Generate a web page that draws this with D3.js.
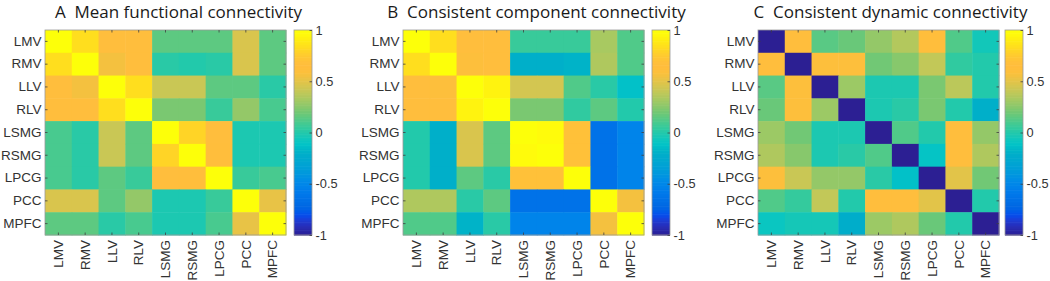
<!DOCTYPE html>
<html><head><meta charset="utf-8">
<script src="https://cdn.jsdelivr.net/npm/d3@7"></script>
<style>body{margin:0;background:#fff;} svg{display:block;}</style>
</head><body>
<svg id="chart" width="1050" height="281"></svg>
<script>
const regions = ["LMV","RMV","LLV","RLV","LSMG","RSMG","LPCG","PCC","MPFC"];
const colorTicks = [1, 0.5, 0, -0.5, -1];
const colorTickLabels = ["1", "0.5", "0", "-0.5", "-1"];
const titles = ["A  Mean functional connectivity", "B  Consistent component connectivity", "C  Consistent dynamic connectivity"];

const meanFC = [
 [1.00,0.84,0.66,0.66,0.15,0.15,0.15,0.47,0.15],
 [0.84,1.00,0.56,0.66,0.02,0.00,0.02,0.47,0.15],
 [0.66,0.56,1.00,0.84,0.42,0.42,0.15,0.15,0.02],
 [0.66,0.66,0.84,1.00,0.22,0.22,0.06,0.28,0.10],
 [0.10,0.02,0.42,0.15,1.00,0.80,0.66,-0.02,-0.02],
 [0.10,0.02,0.42,0.15,0.80,1.00,0.62,-0.02,-0.02],
 [0.10,0.02,0.15,0.06,0.66,0.62,1.00,0.06,0.10],
 [0.47,0.47,0.15,0.28,-0.02,-0.02,0.06,1.00,0.52],
 [0.15,0.15,0.02,0.10,-0.02,-0.02,0.10,0.52,1.00]
];
const componentFC = [
 [1.00,0.84,0.66,0.66,0.06,0.06,0.06,0.33,0.12],
 [0.84,1.00,0.60,0.66,-0.20,-0.20,-0.18,0.35,0.12],
 [0.66,0.60,1.00,0.93,0.45,0.45,0.12,0.02,-0.12],
 [0.66,0.66,0.93,1.00,0.22,0.22,0.04,0.15,0.00],
 [0.00,-0.20,0.47,0.15,1.00,0.97,0.70,-0.64,-0.52],
 [0.00,-0.20,0.47,0.15,0.97,1.00,0.70,-0.64,-0.52],
 [0.00,-0.20,0.15,0.02,0.70,0.70,1.00,-0.64,-0.52],
 [0.35,0.35,0.02,0.15,-0.64,-0.64,-0.64,1.00,0.56],
 [0.12,0.12,-0.18,0.02,-0.52,-0.52,-0.52,0.56,1.00]
];
const dynamicFC = [
 [-1.00,0.66,0.14,0.18,0.28,0.36,0.62,0.12,-0.05],
 [0.66,-1.00,0.60,0.60,0.20,0.25,0.40,0.04,0.00],
 [0.14,0.60,-1.00,0.30,-0.02,-0.02,0.22,0.38,0.00],
 [0.18,0.60,0.30,-1.00,-0.02,0.02,0.22,0.00,-0.20],
 [0.30,0.20,-0.02,-0.02,-1.00,0.12,0.00,0.66,0.28],
 [0.35,0.25,-0.02,0.02,0.12,-1.00,-0.10,0.66,0.35],
 [0.60,0.42,0.28,0.28,0.02,-0.12,-1.00,0.50,0.20],
 [0.12,0.05,0.40,0.00,0.66,0.66,0.50,-1.00,0.00],
 [-0.08,-0.04,-0.04,-0.22,0.30,0.35,0.18,0.00,-1.00]
];
const matrices = [meanFC, componentFC, dynamicFC];

// parula colormap
const parula = [[0.2081,0.1663,0.5292],[0.2116,0.1898,0.5777],[0.2123,0.2138,0.6270],[0.2081,0.2386,0.6771],[0.1959,0.2645,0.7279],[0.1707,0.2919,0.7792],[0.1253,0.3242,0.8303],[0.0591,0.3598,0.8683],[0.0117,0.3875,0.8820],[0.0060,0.4086,0.8828],[0.0165,0.4266,0.8786],[0.0329,0.4430,0.8720],[0.0498,0.4586,0.8641],[0.0629,0.4737,0.8554],[0.0723,0.4887,0.8467],[0.0779,0.5040,0.8384],[0.0793,0.5200,0.8312],[0.0749,0.5375,0.8263],[0.0641,0.5570,0.8240],[0.0488,0.5772,0.8228],[0.0343,0.5966,0.8199],[0.0265,0.6137,0.8135],[0.0239,0.6287,0.8038],[0.0231,0.6418,0.7913],[0.0228,0.6535,0.7768],[0.0267,0.6642,0.7607],[0.0384,0.6743,0.7436],[0.0590,0.6838,0.7254],[0.0843,0.6928,0.7062],[0.1133,0.7015,0.6859],[0.1453,0.7098,0.6646],[0.1801,0.7177,0.6424],[0.2178,0.7250,0.6193],[0.2586,0.7317,0.5954],[0.3022,0.7376,0.5712],[0.3482,0.7424,0.5473],[0.3953,0.7459,0.5244],[0.4420,0.7481,0.5033],[0.4871,0.7491,0.4840],[0.5300,0.7491,0.4661],[0.5709,0.7485,0.4494],[0.6099,0.7473,0.4337],[0.6473,0.7456,0.4188],[0.6834,0.7435,0.4044],[0.7184,0.7411,0.3905],[0.7525,0.7384,0.3768],[0.7858,0.7356,0.3633],[0.8185,0.7327,0.3498],[0.8507,0.7299,0.3360],[0.8824,0.7274,0.3217],[0.9139,0.7258,0.3063],[0.9450,0.7261,0.2886],[0.9739,0.7314,0.2666],[0.9938,0.7455,0.2403],[0.9990,0.7653,0.2164],[0.9955,0.7861,0.1967],[0.9880,0.8066,0.1794],[0.9789,0.8271,0.1633],[0.9697,0.8481,0.1475],[0.9626,0.8705,0.1309],[0.9589,0.8949,0.1132],[0.9598,0.9218,0.0948],[0.9661,0.9514,0.0755],[0.9763,0.9831,0.0538]]
  .map(c => {
    const h = d3.hsl(d3.rgb(c[0]*255, c[1]*255, c[2]*255));
    h.s = Math.min(1, h.s * 1.25);
    return h.toString();
  });
const color = d3.scaleSequential(d3.interpolateRgbBasis(parula)).domain([-1, 1]);

const svg = d3.select("#chart");
const plotLefts = [45, 403, 758];
const cbOffsets = [249, 249, 247];
const plotTop = 30, plotW = 241, plotH = 205;
const cbW = 18;
const tickCol = "#404040", labelCol = "#333";
const font = "'Liberation Sans', Arial, sans-serif";

matrices.forEach((M, p) => {
  const g = svg.append("g").attr("transform", `translate(${plotLefts[p]},${plotTop})`);
  const x = d3.scaleBand().domain(regions).range([0, plotW]);
  const y = d3.scaleBand().domain(regions).range([0, plotH]);
  const cells = [];
  M.forEach((row, i) => row.forEach((v, j) => cells.push({r: regions[i], c: regions[j], v})));
  g.selectAll("rect.cell").data(cells).enter().append("rect")
    .attr("class","cell")
    .attr("x", d => x(d.c)).attr("y", d => y(d.r))
    .attr("width", x.bandwidth() + 0.5).attr("height", y.bandwidth() + 0.5)
    .attr("fill", d => color(d.v));
  g.append("rect").attr("x",0).attr("y",0).attr("width",plotW).attr("height",plotH)
    .attr("fill","none").attr("stroke","#9a9a9a").attr("stroke-width",0.8);

  const xb = g.append("g").attr("transform",`translate(0,${plotH})`)
    .call(d3.axisBottom(x).tickSize(-2.5).tickPadding(6));
  const xt = g.append("g").call(d3.axisTop(x).tickSize(-2.5).tickFormat(""));
  const yl = g.append("g").call(d3.axisLeft(y).tickSize(-2.5).tickPadding(3.5));
  const yr = g.append("g").attr("transform",`translate(${plotW},0)`).call(d3.axisRight(y).tickSize(-2.5).tickFormat(""));
  [xb, xt, yl, yr].forEach(a => {
    a.select(".domain").remove();
    a.selectAll(".tick line").attr("stroke", tickCol).attr("stroke-width", 0.8);
  });
  xb.selectAll(".tick text")
    .attr("transform","rotate(-90)")
    .attr("x", -5).attr("y", 0).attr("dy","0.35em")
    .style("text-anchor","end");
  [xb, yl].forEach(a => a.selectAll(".tick text")
    .attr("fill", labelCol).style("font-family", font).style("font-size","13.5px"));

  // colorbar
  const cb = svg.append("g").attr("transform",`translate(${plotLefts[p]+cbOffsets[p]},${plotTop})`);
  const cy = d3.scaleLinear().domain([-1, 1]).range([plotH, 0]);
  const steps = d3.range(0, 128);
  cb.selectAll("rect.cb").data(steps).enter().append("rect")
    .attr("x", 0).attr("width", cbW)
    .attr("y", d => cy(-1 + (d + 1) * 2 / 128))
    .attr("height", plotH / 128 + 0.6)
    .attr("fill", d => color(-1 + (d + 0.5) * 2 / 128));
  cb.append("rect").attr("width", cbW).attr("height", plotH)
    .attr("fill","none").attr("stroke","#9a9a9a").attr("stroke-width",0.8);
  const ca = cb.append("g").attr("transform",`translate(${cbW},0)`)
    .call(d3.axisRight(cy).tickValues(colorTicks).tickSize(-2.5).tickPadding(3.5)
      .tickFormat((d, i) => colorTickLabels[i]));
  ca.select(".domain").remove();
  ca.selectAll(".tick line").attr("stroke", tickCol).attr("stroke-width",0.8);
  ca.selectAll(".tick text").attr("fill", labelCol).style("font-family", font).style("font-size","12.8px");

  svg.append("text")
    .attr("x", (plotLefts[p] + plotLefts[p] + cbOffsets[p] + cbW) / 2)
    .attr("y", 18)
    .attr("text-anchor","middle")
    .attr("fill","#1a1a1a")
    .style("font-family","'Open Sans', 'Noto Sans', sans-serif")
    .style("font-size","17px")
    .style("white-space","pre")
    .text(titles[p]);
});
</script>
</body></html>
